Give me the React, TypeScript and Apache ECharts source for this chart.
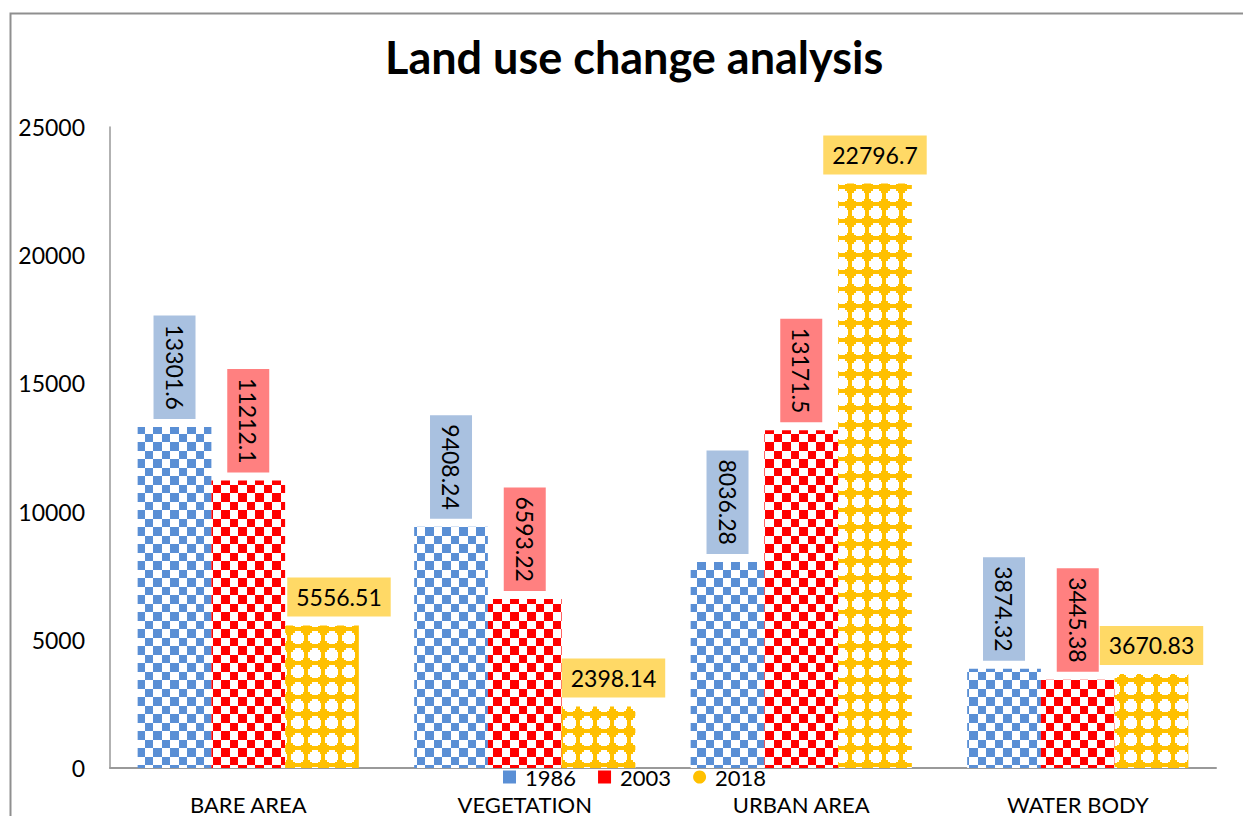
import React, { useEffect, useRef } from "react";
import * as echarts from "echarts";

const categories = ["BARE AREA", "VEGETATION", "URBAN AREA", "WATER BODY"];
const years = ["1986", "2003", "2018"];
const values1986 = [13301.6, 9408.24, 8036.28, 3874.32];
const values2003 = [11212.1, 6593.22, 13171.5, 3445.38];
const values2018 = [5556.51, 2398.14, 22796.7, 3670.83];
const yMin = 0;
const yMax = 25000;
const yInterval = 5000;

const FONT = "Lato, 'Open Sans', sans-serif";

const svgUrl = (s: string) => "data:image/svg+xml;charset=utf-8," + encodeURIComponent(s);

const bluePattern = {
  image: svgUrl(
    "<svg xmlns='http://www.w3.org/2000/svg' width='17' height='17' shape-rendering='crispEdges'>" +
      "<rect width='17' height='17' fill='#ffffff'/>" +
      "<rect width='8.5' height='8.5' fill='#5a8fd5'/>" +
      "<rect x='8.5' y='8.5' width='8.5' height='8.5' fill='#5a8fd5'/></svg>"
  ),
  repeat: "repeat",
  imageWidth: 17,
  imageHeight: 17,
};

const redPattern = {
  image: svgUrl(
    "<svg xmlns='http://www.w3.org/2000/svg' width='17' height='17' shape-rendering='crispEdges'>" +
      "<rect width='17' height='17' fill='#ffffff'/>" +
      "<rect width='8.5' height='8.5' fill='#ff0000'/>" +
      "<rect x='8.5' y='8.5' width='8.5' height='8.5' fill='#ff0000'/></svg>"
  ),
  repeat: "repeat",
  imageWidth: 17,
  imageHeight: 17,
};

const yellowPattern = {
  image: svgUrl(
    "<svg xmlns='http://www.w3.org/2000/svg' width='17' height='17' shape-rendering='crispEdges'>" +
      "<rect width='17' height='17' fill='#ffc000'/>" +
      "<polygon points='5.5,2 11.5,2 11.5,3.5 13.5,3.5 13.5,5.5 15,5.5 15,11.5 13.5,11.5 13.5,13.5 11.5,13.5 11.5,15 5.5,15 5.5,13.5 3.5,13.5 3.5,11.5 2,11.5 2,5.5 3.5,5.5 3.5,3.5 5.5,3.5' fill='#ffffff'/></svg>"
  ),
  repeat: "repeat",
  imageWidth: 17,
  imageHeight: 17,
};

const fmt = (p: any) => String(p.value);

const verticalLabel = (bg: string) => ({
  show: true,
  position: "top",
  distance: 8,
  rotate: -90,
  align: "right",
  verticalAlign: "middle",
  formatter: fmt,
  fontFamily: FONT,
  fontSize: 23,
  color: "#000",
  backgroundColor: bg,
  padding: [10, 9, 9, 9],
  lineHeight: 23,
});

export default function App() {
  const ref = useRef<HTMLDivElement>(null);

  useEffect(() => {
    if (!ref.current) return;
    const chart = echarts.init(ref.current, undefined, { renderer: "svg" });
    const option: any = {
      animation: false,
      backgroundColor: "#ffffff",
      title: {
        text: "Land use change analysis",
        left: 380,
        top: 29,
        textStyle: { fontFamily: FONT, fontWeight: "bold", fontSize: 45, color: "#000" },
      },
      legend: {
        left: 503,
        top: 766,
        padding: 0,
        itemWidth: 13,
        itemHeight: 13,
        itemGap: 22,
        textStyle: {
          fontFamily: FONT,
          fontSize: 22,
          lineHeight: 18,
          color: "#000",
          padding: [0, 0, 0, 4],
        },
        data: [
          { name: years[0], icon: "rect", itemStyle: { color: "#5a8fd5" } },
          { name: years[1], icon: "rect", itemStyle: { color: "#ff0000" } },
          { name: years[2], icon: "circle", itemStyle: { color: "#ffc000" } },
        ],
      },
      graphic: [
        {
          type: "polyline",
          shape: { points: [[10.5, 816], [10.5, 13.5], [1243, 13.5]] },
          style: { stroke: "#8f8f8f", lineWidth: 2, fill: "none" },
          silent: true,
        },
      ],
      grid: { left: 110, right: 27, top: 127, bottom: 48, containLabel: false },
      xAxis: {
        type: "category",
        data: categories,
        axisLine: { show: true, lineStyle: { color: "#999999", width: 2 } },
        axisTick: { show: false },
        axisLabel: { fontFamily: FONT, fontSize: 22, color: "#000", margin: 26, lineHeight: 20 },
      },
      yAxis: {
        type: "value",
        min: yMin,
        max: yMax,
        interval: yInterval,
        axisLine: { show: true, lineStyle: { color: "#999999", width: 1.5 } },
        axisTick: { show: false },
        splitLine: { show: false },
        axisLabel: {
          fontFamily: FONT,
          fontSize: 23,
          color: "#000",
          margin: 25,
          formatter: (v: number) => String(v),
        },
      },
      series: [
        {
          name: years[0],
          type: "bar",
          data: values1986,
          barGap: "0%",
          barCategoryGap: "20%",
          itemStyle: { color: bluePattern },
          label: verticalLabel("#a9c1e0"),
        },
        {
          name: years[1],
          type: "bar",
          data: values2003,
          barGap: "0%",
          barCategoryGap: "20%",
          itemStyle: { color: redPattern },
          label: verticalLabel("#ff8080"),
        },
        {
          name: years[2],
          type: "bar",
          barGap: "0%",
          barCategoryGap: "20%",
          data: values2018.map((v, i) =>
            i === 0
              ? { value: v, label: { offset: [17, 0] } }
              : i === 1
              ? { value: v, label: { offset: [15, 0] } }
              : v
          ),
          itemStyle: { color: yellowPattern },
          label: {
            show: true,
            position: "top",
            distance: 9,
            formatter: fmt,
            fontFamily: FONT,
            fontSize: 23,
            color: "#000",
            backgroundColor: "#ffd966",
            padding: [8, 9, 8, 9],
            lineHeight: 23,
          },
        },
      ],
    };
    chart.setOption(option);
    return () => chart.dispose();
  }, []);

  return (
    <div
      ref={ref}
      style={{ position: "absolute", left: 0, top: 0, width: 1243, height: 816 }}
    />
  );
}
